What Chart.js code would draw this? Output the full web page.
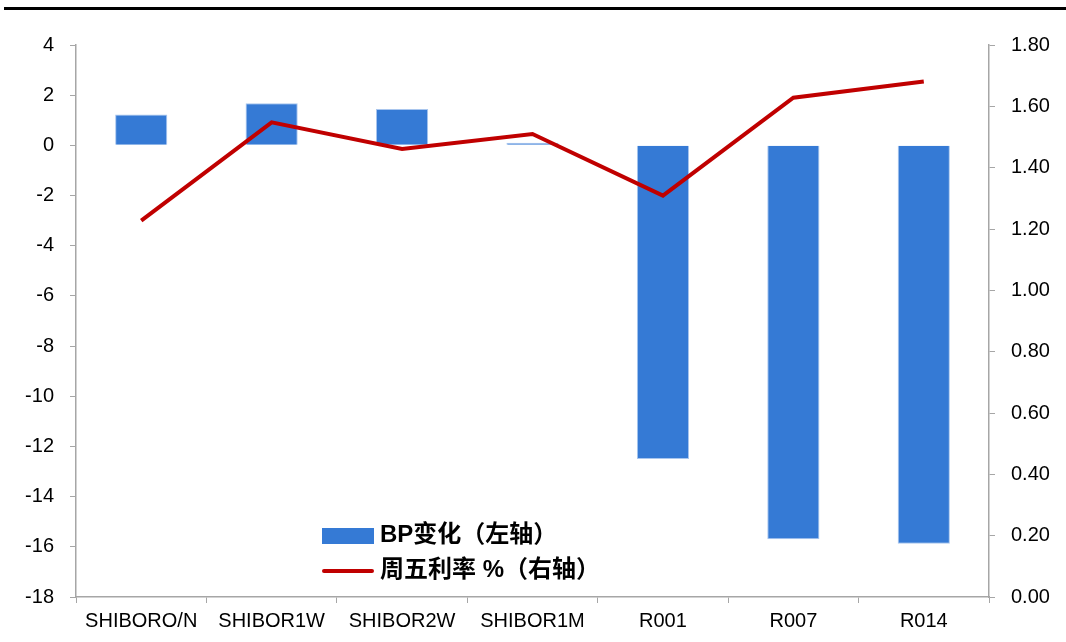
<!DOCTYPE html>
<html>
<head>
<meta charset="utf-8">
<script src="https://cdn.jsdelivr.net/npm/chart.js@4"></script>
<style>
    body { margin: 0; background: #fff; }
    #wrap { position: relative; width: 1066px; height: 642px; }
    #topRule { position: absolute; left: 4px; right: 0; top: 7px; height: 3px; background: #000; }
    .legend { position: absolute; left: 322px; top: 516px; font: bold 24px "Liberation Sans", "Noto Sans CJK SC", sans-serif; color: #000; }
    .legend div { height: 35px; line-height: 35px; white-space: nowrap; }
    .legend span.sw { display: inline-block; width: 52px; margin-right: 6px; vertical-align: middle; }
</style>
</head>
<body>
<div id="wrap">
    <div id="topRule"></div>
    <canvas id="chart" width="1066" height="642"></canvas>
    <div class="legend">
        <div><span class="sw" style="height:16px;background:#357AD5;"></span>BP变化（左轴）</div>
        <div><span class="sw" style="height:4px;background:#C00000;border-radius:2px;"></span>周五利率 %（右轴）</div>
    </div>
</div>
<script>
const categories = ['SHIBORO/N', 'SHIBOR1W', 'SHIBOR2W', 'SHIBOR1M', 'R001', 'R007', 'R014'];
const bpChange = [1.23, 1.68, 1.45, 0.1, -12.5, -15.7, -15.88];
const fridayRate = [1.227, 1.548, 1.461, 1.510, 1.309, 1.628, 1.681];
const leftTicks = { min: -18, max: 4, step: 2 };
const rightTicks = { min: 0, max: 1.8, step: 0.2 };

const axisColor = '#A6A6A6';
const tickFont = { family: '"Liberation Sans", Arial, sans-serif', size: 20 };

new Chart(document.getElementById('chart').getContext('2d'), {
    data: {
        labels: categories,
        datasets: [
            {
                type: 'line',
                label: '周五利率 %（右轴）',
                data: fridayRate,
                yAxisID: 'yRight',
                borderColor: '#C00000',
                borderWidth: 4,
                pointRadius: 0,
                tension: 0,
                order: 0
            },
            {
                type: 'bar',
                label: 'BP变化（左轴）',
                data: bpChange,
                yAxisID: 'yLeft',
                backgroundColor: '#357AD5',
                borderColor: '#A9C6EE',
                borderWidth: 1,
                barPercentage: 0.4,
                categoryPercentage: 1,
                order: 1
            }
        ]
    },
    options: {
        responsive: false,
        animation: false,
        layout: { padding: { top: 45, right: 0, left: 0, bottom: 0 } },
        plugins: {
            legend: { display: false },
            tooltip: { enabled: false }
        },
        scales: {
            x: {
                grid: { offset: true, drawOnChartArea: false, color: axisColor, tickLength: 6 },
                border: { color: axisColor, width: 1.5 },
                ticks: { color: '#000', font: tickFont, padding: 6, maxRotation: 0 },
                afterFit: scale => { scale.height = 45; }
            },
            yLeft: {
                position: 'left',
                min: leftTicks.min,
                max: leftTicks.max,
                grid: { drawOnChartArea: false, color: axisColor, tickLength: 6 },
                border: { color: axisColor, width: 1.5 },
                ticks: { stepSize: leftTicks.step, color: '#000', font: tickFont, padding: 16 },
                afterFit: scale => { scale.width = 76; }
            },
            yRight: {
                position: 'right',
                min: rightTicks.min,
                max: rightTicks.max,
                grid: { drawOnChartArea: false, color: axisColor, tickLength: 6 },
                border: { color: axisColor, width: 1.5 },
                ticks: {
                    stepSize: rightTicks.step,
                    color: '#000',
                    font: tickFont,
                    padding: 16,
                    callback: v => v.toFixed(2)
                },
                afterFit: scale => { scale.width = 77; }
            }
        }
    }
});
</script>
</body>
</html>
